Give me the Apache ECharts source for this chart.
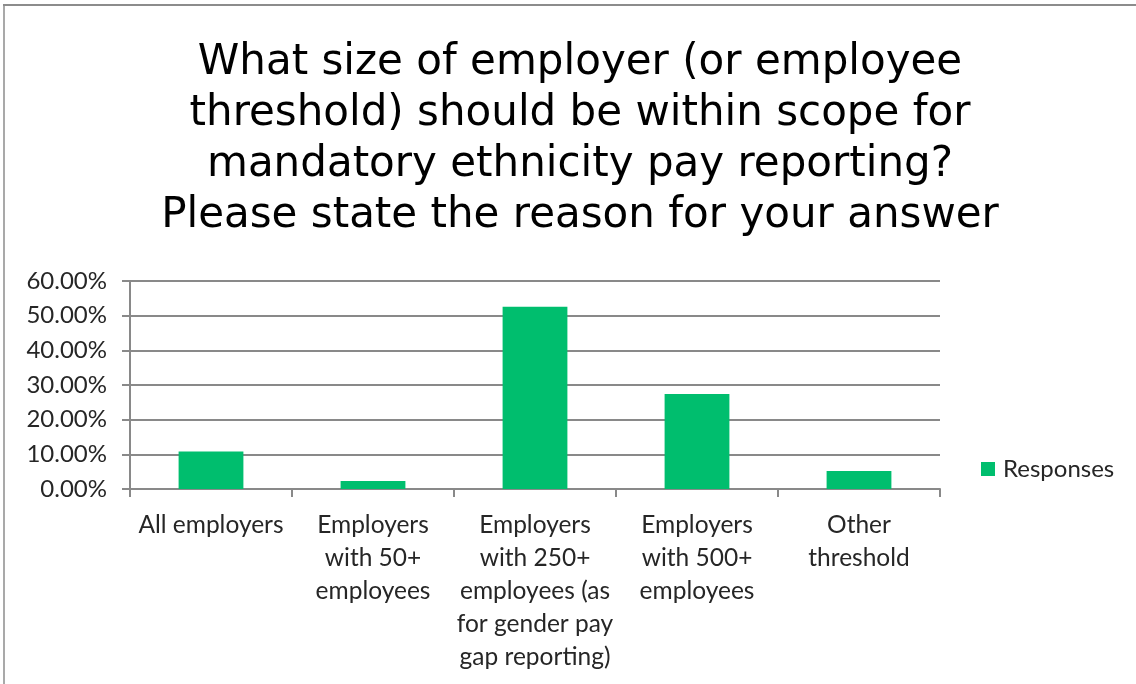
<!DOCTYPE html>
<html>
<head>
<meta charset="utf-8">
<script src="https://cdn.jsdelivr.net/npm/echarts@6/dist/echarts.min.js"></script>
<style>
  html, body { margin: 0; padding: 0; background: #ffffff; }
  #chart { width: 1136px; height: 684px; }
</style>
</head>
<body>
<div id="chart"></div>
<script>
// Survey question and answer options
const titleText = 'What size of employer (or employee\nthreshold) should be within scope for\nmandatory ethnicity pay reporting?\nPlease state the reason for your answer';
const categories = [
  'All employers',
  'Employers\nwith 50+\nemployees',
  'Employers\nwith 250+\nemployees (as\nfor gender pay\ngap reporting)',
  'Employers\nwith 500+\nemployees',
  'Other\nthreshold'
];
// Share of responses, in percent
const responses = [10.8, 2.3, 52.6, 27.4, 5.2];
const seriesName = 'Responses';
// Value axis range and step, in percent
const yMin = 0;
const yMax = 60;
const yStep = 10;

const labelFont = 'Lato, "Open Sans", sans-serif';
const gridGray = '#898989';
const textDark = '#262626';

const chart = echarts.init(document.getElementById('chart'), null, { renderer: 'canvas' });

chart.setOption({
  backgroundColor: '#ffffff',
  animation: false,
  title: {
    text: titleText,
    left: 575,
    top: 33,
    textAlign: 'center',
    textStyle: {
      fontFamily: '"DejaVu Sans", sans-serif',
      fontWeight: 'normal',
      fontSize: 42,
      lineHeight: 51,
      color: '#000000'
    }
  },
  graphic: [
    { type: 'line', shape: { x1: 3, y1: 5, x2: 1136, y2: 5 }, style: { stroke: '#8c8c8c', lineWidth: 2 } },
    { type: 'line', shape: { x1: 4, y1: 5, x2: 4, y2: 684 }, style: { stroke: '#8c8c8c', lineWidth: 1.5 } }
  ],
  legend: {
    data: [seriesName],
    left: 976,
    top: 452,
    orient: 'vertical',
    itemWidth: 14,
    itemHeight: 14,
    icon: 'rect',
    textStyle: {
      fontFamily: labelFont,
      fontSize: 24,
      color: textDark,
      padding: [0, 0, 0, 3]
    }
  },
  grid: {
    left: 130,
    right: 196,
    top: 281,
    bottom: 195,
    containLabel: false
  },
  xAxis: {
    type: 'category',
    data: categories,
    boundaryGap: true,
    axisLine: { show: true, lineStyle: { color: gridGray, width: 2 } },
    axisTick: { show: true, alignWithLabel: false, length: 8, lineStyle: { color: gridGray, width: 2 } },
    axisLabel: {
      interval: 0,
      margin: 20,
      fontFamily: labelFont,
      fontSize: 24.5,
      lineHeight: 33,
      color: textDark,
      align: 'center'
    },
    splitLine: { show: false }
  },
  yAxis: {
    type: 'value',
    min: yMin,
    max: yMax,
    interval: yStep,
    axisLine: { show: true, lineStyle: { color: gridGray, width: 2 } },
    axisTick: { show: true, length: 8, lineStyle: { color: gridGray, width: 2 } },
    axisLabel: {
      margin: 23,
      fontFamily: labelFont,
      fontSize: 24,
      color: textDark,
      formatter: v => v.toFixed(2) + '%'
    },
    splitLine: { show: true, lineStyle: { color: gridGray, width: 2 } }
  },
  series: [{
    name: seriesName,
    type: 'bar',
    data: responses,
    barWidth: '40%',
    itemStyle: { color: '#00BE6E' }
  }]
});
</script>
</body>
</html>
